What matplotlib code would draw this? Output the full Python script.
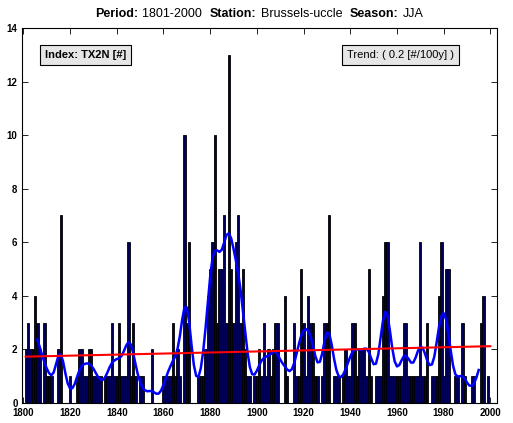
import numpy as np
import matplotlib
matplotlib.use("Agg")
import matplotlib.pyplot as plt
from matplotlib.offsetbox import TextArea, HPacker, AnchoredOffsetbox

plt.rcParams['font.family'] = ['Liberation Sans', 'DejaVu Sans']

years = np.arange(1801, 2001)
tx2n = [
    2, 3, 2, 2, 4, 3, 2, 0, 3, 1,    # 1801-1810
    1, 1, 0, 0, 2, 7, 0, 0, 0, 1,    # 1811-1820
    0, 0, 1, 2, 2, 1, 1, 2, 2, 1,    # 1821-1830
    1, 1, 1, 0, 1, 1, 1, 3, 1, 1,    # 1831-1840
    3, 1, 1, 1, 6, 1, 3, 1, 0, 1,    # 1841-1850
    1, 0, 0, 0, 2, 0, 0, 0, 0, 1,    # 1851-1860
    1, 1, 1, 3, 1, 2, 1, 0, 10, 3,   # 1861-1870
    6, 0, 0, 0, 1, 1, 1, 2, 4, 5,    # 1871-1880
    6, 10, 3, 5, 5, 7, 3, 13, 5, 3,  # 1881-1890
    6, 7, 3, 5, 2, 1, 1, 0, 1, 1,    # 1891-1900
    2, 1, 3, 1, 2, 1, 2, 3, 3, 0,    # 1901-1910
    0, 4, 1, 0, 0, 3, 1, 1, 5, 3,    # 1911-1920
    1, 4, 3, 3, 1, 1, 0, 1, 3, 3,    # 1921-1930
    7, 0, 1, 1, 1, 0, 1, 2, 1, 1,    # 1931-1940
    3, 3, 1, 2, 2, 2, 1, 5, 1, 0,    # 1941-1950
    1, 1, 1, 4, 6, 6, 1, 1, 1, 1,    # 1951-1960
    1, 1, 3, 3, 1, 1, 1, 1, 1, 6,    # 1961-1970
    1, 1, 3, 0, 1, 1, 1, 4, 6, 1,    # 1971-1980
    5, 5, 0, 0, 1, 1, 0, 3, 1, 0,    # 1981-1990
    0, 1, 1, 0, 0, 3, 4, 0, 1, 0,    # 1991-2000
]
trend_ends = [1.73, 2.12]   # trend line values at 1801 and 2000
title_parts = [("Period:", "bold"), ("1801-2000", "normal"),
               ("Station:", "bold"), ("Brussels-uccle", "normal"),
               ("Season:", "bold"), ("JJA", "normal")]

tx2n = np.array(tx2n, dtype=float)

# gaussian smoothing of the yearly counts (11 year window)
k = np.arange(-5, 6)
w = np.exp(-0.5 * (k / 2.0) ** 2)
smooth = np.convolve(tx2n, w / w.sum(), mode='valid')
smooth_years = years[5:-5]

fig = plt.figure(figsize=(5.13, 4.23), dpi=100)
ax = fig.add_axes([0.0423, 0.0473, 0.9259, 0.8865])

ax.bar(years, tx2n, width=1.0, color='#00005a', edgecolor='black', linewidth=0.6, zorder=2)
ax.plot(smooth_years, smooth, color='#0000ff', linewidth=1.8, zorder=3)
ax.plot([years[0], years[-1]], trend_ends, color='red', linewidth=1.5, zorder=4)

ax.set_xlim(1799.3, 2002.7)
ax.set_ylim(0, 14)
ax.set_xticks(np.arange(1800, 2001, 20))
ax.set_yticks(np.arange(0, 15, 2))
ax.tick_params(direction='in', top=True, right=True, length=4, width=0.6,
               labelsize=7)
ax.tick_params(axis='x', pad=3.5)
ax.tick_params(axis='y', pad=3)
for lab in ax.get_xticklabels() + ax.get_yticklabels():
    lab.set_fontweight('bold')
for s in ax.spines.values():
    s.set_linewidth(0.8)

ax.text(0.049, 0.927, "Index: TX2N [#]", transform=ax.transAxes, fontsize=8,
        fontweight='bold', va='center', ha='left', zorder=5,
        bbox=dict(boxstyle='square,pad=0.45', fc='#e6e6e6', ec='black', lw=0.8))
ax.text(0.6855, 0.927, "Trend: ( 0.2 [#/100y] )", transform=ax.transAxes, fontsize=8,
        va='center', ha='left', zorder=5,
        bbox=dict(boxstyle='square,pad=0.45', fc='#e6e6e6', ec='black', lw=0.8))

# title made of bold and normal pieces
areas = []
for i, (txt, wt) in enumerate(title_parts):
    pad = " " if (wt == "normal" and i < len(title_parts) - 1) else ""
    areas.append(TextArea(txt + pad, textprops=dict(fontsize=9, fontweight=wt)))
title_box = HPacker(children=areas, align='baseline', pad=0, sep=3)
anchored = AnchoredOffsetbox(loc='lower center', child=title_box, pad=0, borderpad=0,
                             frameon=False, bbox_to_anchor=(0.5, 1.022),
                             bbox_transform=ax.transAxes)
ax.add_artist(anchored)

fig.savefig("out.png", dpi=100)
